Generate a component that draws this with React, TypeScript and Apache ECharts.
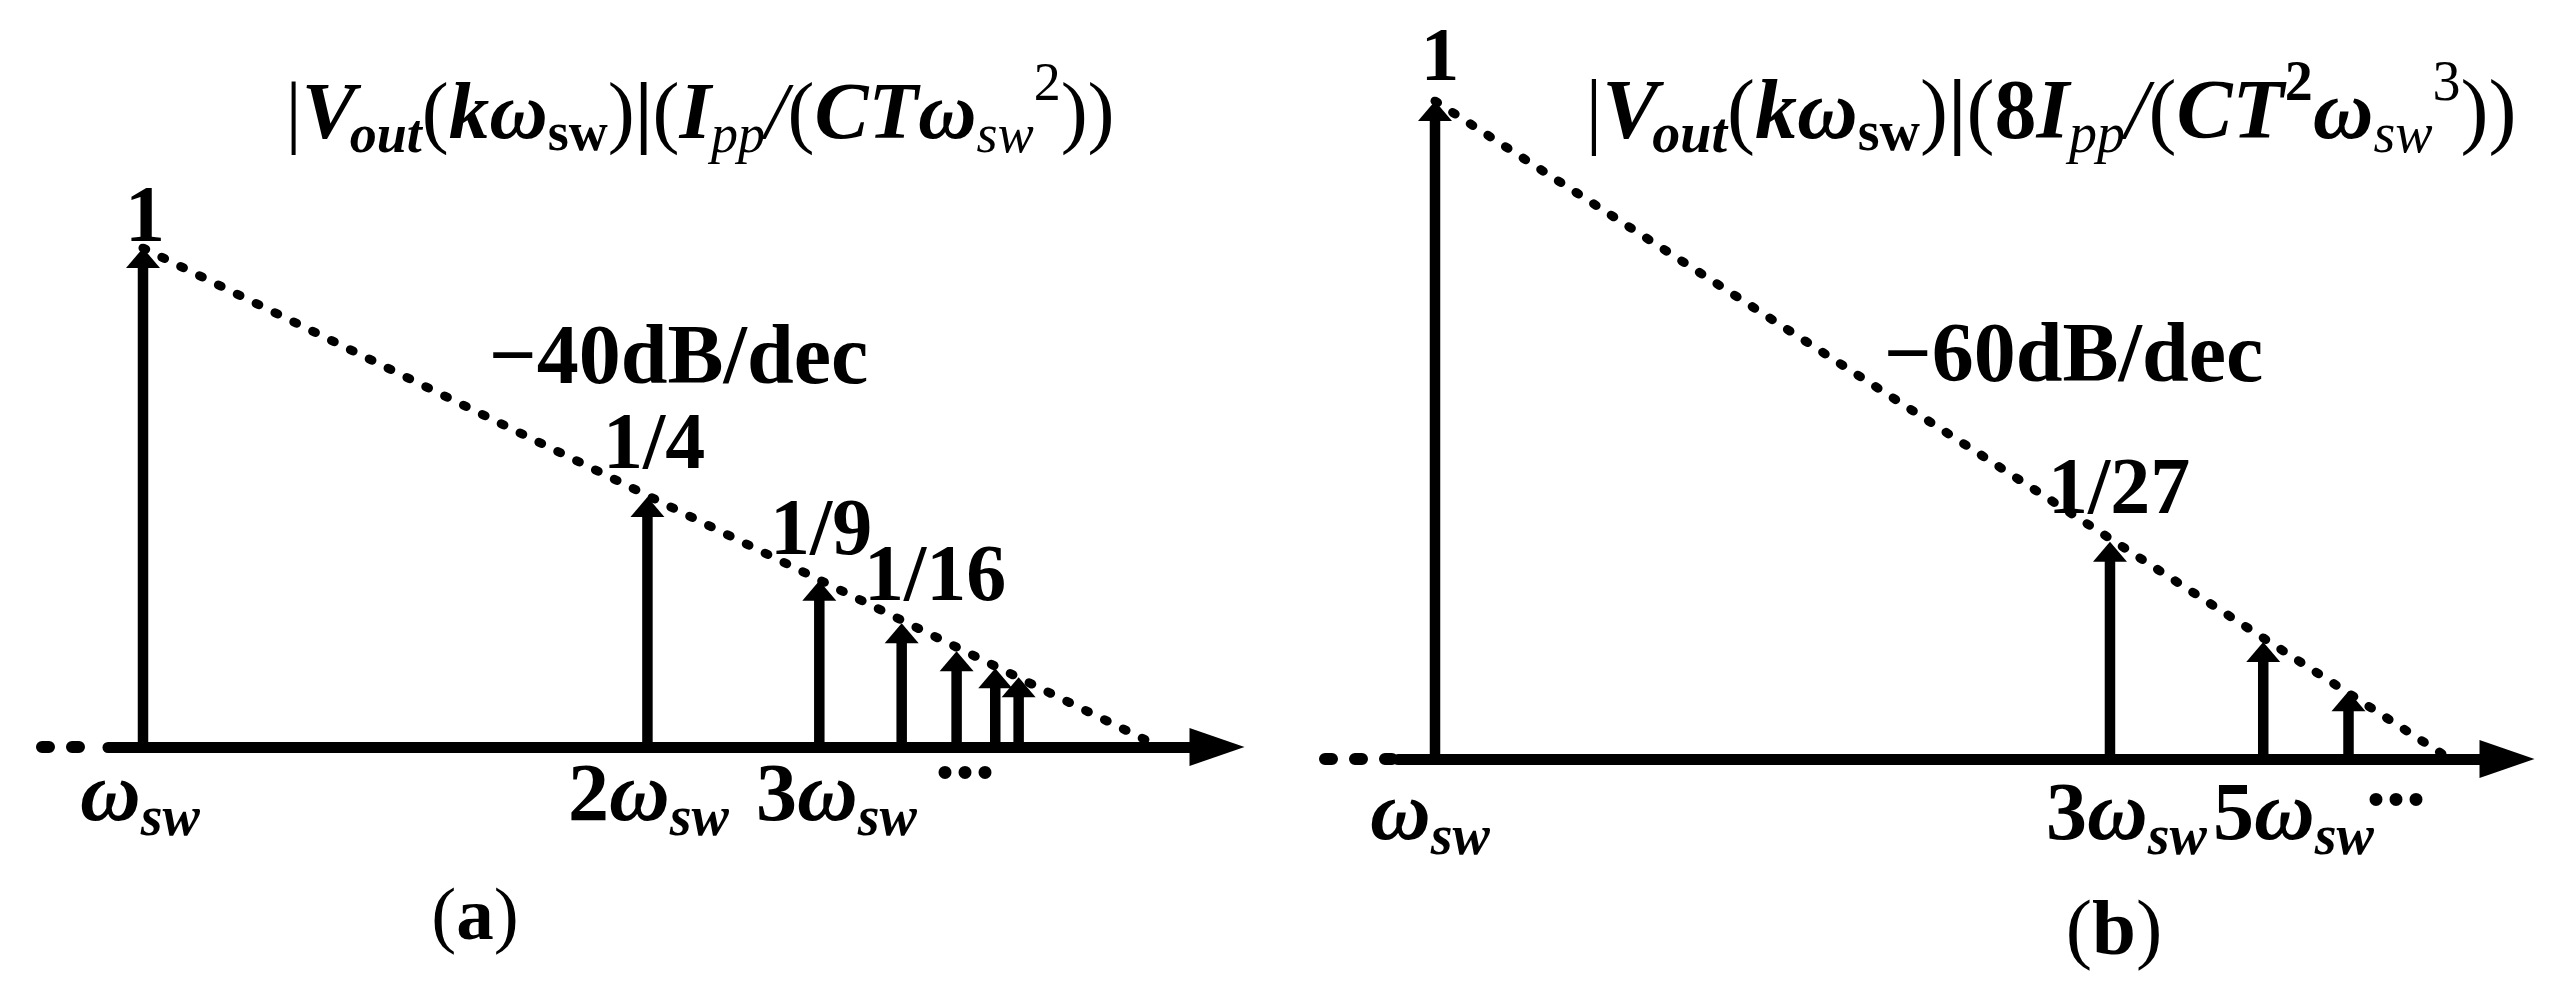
import React, { useEffect, useRef } from "react";
import * as echarts from "echarts";

// ---------- data ----------
// panel (a): harmonic k = 1..7, horizontal position (0 = ω_sw, 1 = asymptote foot), normalized magnitude
const harmonicsA = [1, 2, 3, 4, 5, 6, 7];
const positionA = [0, 0.496, 0.665, 0.746, 0.8, 0.838, 0.861];
const magnitudeA = [1, 0.501, 0.333, 0.248, 0.192, 0.158, 0.14];
const asymptoteA = [
  [0, 1],
  [1, 0],
];
// panel (b): odd harmonics 1, 3, 5, 7
const harmonicsB = [1, 3, 5, 7];
const positionB = [0, 0.665, 0.816, 0.9];
const magnitudeB = [1, 0.33, 0.178, 0.103];
const asymptoteB = [
  [0, 1],
  [1, 0],
];
const amplitudeLabelsA = ["1", "1/4", "1/9", "1/16"];
const amplitudeLabelsB = ["1", "1/27"];
const slopeLabels = ["\u221240dB/dec", "\u221260dB/dec"];
const tickPrefixA = ["", "2", "3"];
const tickPrefixB = ["", "3", "5"];
const panelTags = ["a", "b"];

// ---------- text helpers ----------
const SERIF = "'Liberation Serif', 'Times New Roman', serif";
const CENTRAL = 0.3375;
type Seg = { t: string; s: number; b?: boolean; i?: boolean; dy?: number; dx?: number };

let measureCtx: CanvasRenderingContext2D | null = null;
function fontOf(g: Seg) {
  return `${g.i ? "italic " : ""}${g.b ? "bold " : ""}${g.s}px ${SERIF}`;
}
function textWidth(g: Seg) {
  if (!measureCtx) measureCtx = document.createElement("canvas").getContext("2d");
  measureCtx!.font = fontOf(g);
  return measureCtx!.measureText(g.t).width;
}
function richText(segs: Seg[], x: number, baseline: number, anchor: "left" | "center" = "left") {
  const widths = segs.map((g) => textWidth(g) + (g.dx || 0));
  const total = widths.reduce((a, b) => a + b, 0);
  let cx = anchor === "left" ? x : x - total / 2;
  return segs.map((g, k) => {
    const el = {
      type: "text",
      x: cx + (g.dx || 0),
      y: baseline + (g.dy || 0) - CENTRAL * g.s,
      silent: true,
      style: {
        text: g.t,
        fill: "#000",
        fontSize: g.s,
        fontFamily: SERIF,
        fontWeight: g.b ? "bold" : "normal",
        fontStyle: g.i ? "italic" : "normal",
        align: "left",
        verticalAlign: "middle",
      },
    };
    cx += widths[k];
    return el;
  });
}

function omegaLabel(prefix: string, x: number, baseline: number) {
  const segs: Seg[] = [];
  if (prefix) segs.push({ t: prefix, s: 82, b: true });
  segs.push({ t: "\u03c9", s: 84, b: true, i: true });
  segs.push({ t: "sw", s: 56, b: true, i: true, dy: 15 });
  return richText(segs, x, baseline);
}

function titleSegs(b: boolean): Seg[] {
  const M = b ? 84 : 81;
  const S = b ? 56 : 54;
  const head: Seg[] = [
    { t: "|", s: M },
    { t: "V", s: M, b: true, i: true },
    { t: "out", s: S, b: true, i: true, dy: 14, dx: -6 },
    { t: "(", s: M },
    { t: "k", s: M, b: true, i: true },
    { t: "\u03c9", s: M, b: true, i: true },
    { t: "sw", s: S, b: true, dy: 12 },
    { t: ")", s: M },
    { t: "|", s: M, b: true },
    { t: "(", s: M },
  ];
  if (b) head.push({ t: "8", s: M, b: true });
  const tail: Seg[] = [
    { t: "I", s: M, b: true, i: true },
    { t: "pp", s: S, i: true, dy: 14 },
    { t: "/", s: M, i: true },
    { t: "(", s: M },
    { t: "C", s: M, b: true, i: true },
    { t: "T", s: M, b: true, i: true },
  ];
  if (b) tail.push({ t: "2", s: S, b: true, dy: -38, dx: 1 });
  tail.push({ t: "\u03c9", s: M, b: true, i: true });
  tail.push({ t: "sw", s: S, i: true, dy: 14 });
  tail.push({ t: b ? "3" : "2", s: S, dy: -38 });
  tail.push({ t: "))", s: M });
  return [...head, ...tail];
}

function stemRender(params: any, api: any) {
  const x = api.value(0);
  const y = api.value(1);
  const base = api.coord([x, 0]);
  const tip = api.coord([x, y]);
  const headH = 20;
  const headW = 17;
  return {
    type: "group",
    children: [
      {
        type: "line",
        shape: { x1: base[0], y1: base[1], x2: tip[0], y2: tip[1] + headH - 1 },
        style: { stroke: "#000", lineWidth: 10.5 },
      },
      {
        type: "polygon",
        shape: {
          points: [
            [tip[0], tip[1]],
            [tip[0] - headW, tip[1] + headH],
            [tip[0] + headW, tip[1] + headH],
          ],
        },
        style: { fill: "#000" },
      },
    ],
  };
}

function buildOption() {
  const axisLine = {
    show: true,
    onZero: false,
    symbol: ["none", "triangle"],
    symbolSize: [38, 55],
    symbolOffset: [0, 27],
    lineStyle: { color: "#000", width: 11 },
  };
  const hiddenAxisBits = {
    axisTick: { show: false },
    axisLabel: { show: false },
    splitLine: { show: false },
  };
  const dotted = { color: "#000", width: 9, type: [3, 18], cap: "round" };

  const graphic: any[] = [
    // leading dashes of the frequency axes
    {
      type: "line",
      silent: true,
      shape: { x1: 42, y1: 747, x2: 100, y2: 747 },
      style: { stroke: "#000", lineWidth: 12, lineDash: [7, 23], lineCap: "round" },
    },
    {
      type: "line",
      silent: true,
      shape: { x1: 1325, y1: 759, x2: 1392, y2: 759 },
      style: { stroke: "#000", lineWidth: 12, lineDash: [7, 23], lineCap: "round" },
    },
    ...richText(titleSegs(false), 700, 138, "center"),
    ...richText(titleSegs(true), 2051, 138, "center"),
    // amplitude labels
    ...richText([{ t: amplitudeLabelsA[0], s: 80, b: true }], 145, 241, "center"),
    ...richText([{ t: amplitudeLabelsA[1], s: 80, b: true }], 603, 468),
    ...richText([{ t: amplitudeLabelsA[2], s: 80, b: true }], 770, 554),
    ...richText([{ t: amplitudeLabelsA[3], s: 80, b: true }], 864, 600),
    ...richText([{ t: amplitudeLabelsB[0], s: 77, b: true }], 1440, 80, "center"),
    ...richText([{ t: amplitudeLabelsB[1], s: 80, b: true }], 2048, 513),
    // slopes
    ...richText([{ t: slopeLabels[0], s: 84, b: true }], 489, 383),
    ...richText([{ t: slopeLabels[1], s: 84, b: true }], 1884, 381),
    // frequency labels
    ...omegaLabel(tickPrefixA[0], 80, 820),
    ...omegaLabel(tickPrefixA[1], 568, 820),
    ...omegaLabel(tickPrefixA[2], 756, 820),
    ...richText([{ t: "...", s: 80, b: true }], 935, 778),
    ...omegaLabel(tickPrefixB[0], 1370, 839),
    ...omegaLabel(tickPrefixB[1], 2046, 839),
    ...omegaLabel(tickPrefixB[2], 2213, 839),
    ...richText([{ t: "...", s: 80, b: true }], 2366, 805),
    // panel tags
    ...richText(
      [
        { t: "(", s: 75 },
        { t: panelTags[0], s: 75, b: true },
        { t: ")", s: 75 },
      ],
      475,
      939,
      "center"
    ),
    ...richText(
      [
        { t: "(", s: 79 },
        { t: panelTags[1], s: 79, b: true },
        { t: ")", s: 79 },
      ],
      2114,
      954,
      "center"
    ),
  ];

  return {
    animation: false,
    backgroundColor: "#fff",
    grid: [
      { left: 108, top: 248, width: 1082, height: 499 },
      { left: 1398, top: 101, width: 1082, height: 658 },
    ],
    xAxis: [
      { type: "value", gridIndex: 0, min: -35 / 1017, max: 1047 / 1017, axisLine, ...hiddenAxisBits },
      { type: "value", gridIndex: 1, min: -37 / 1015, max: 1045 / 1015, axisLine, ...hiddenAxisBits },
    ],
    yAxis: [
      { type: "value", gridIndex: 0, min: 0, max: 1, show: false },
      { type: "value", gridIndex: 1, min: 0, max: 1, show: false },
    ],
    series: [
      {
        name: "harmonics (a)",
        type: "custom",
        xAxisIndex: 0,
        yAxisIndex: 0,
        clip: false,
        renderItem: stemRender,
        encode: { x: 0, y: 1 },
        data: harmonicsA.map((k, i) => [positionA[i], magnitudeA[i], k]),
        z: 3,
      },
      {
        name: "asymptote (a)",
        type: "line",
        xAxisIndex: 0,
        yAxisIndex: 0,
        symbol: "none",
        data: asymptoteA,
        lineStyle: dotted,
        z: 4,
      },
      {
        name: "harmonics (b)",
        type: "custom",
        xAxisIndex: 1,
        yAxisIndex: 1,
        clip: false,
        renderItem: stemRender,
        encode: { x: 0, y: 1 },
        data: harmonicsB.map((k, i) => [positionB[i], magnitudeB[i], k]),
        z: 3,
      },
      {
        name: "asymptote (b)",
        type: "line",
        xAxisIndex: 1,
        yAxisIndex: 1,
        symbol: "none",
        data: asymptoteB,
        lineStyle: dotted,
        z: 4,
      },
    ],
    graphic,
  };
}

export default function App() {
  const ref = useRef<HTMLDivElement>(null);
  useEffect(() => {
    if (!ref.current) return;
    const chart = echarts.init(ref.current, null, { renderer: "svg" });
    chart.setOption(buildOption() as any);
    return () => chart.dispose();
  }, []);
  return (
    <div
      ref={ref}
      style={{ position: "absolute", left: 0, top: 0, width: 2553, height: 990, background: "#fff" }}
    />
  );
}
